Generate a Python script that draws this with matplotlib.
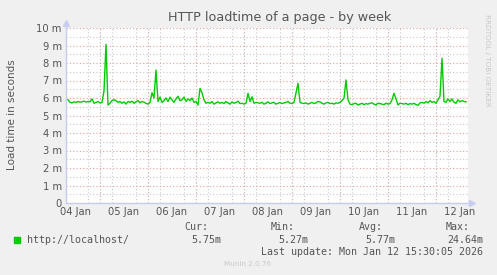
import numpy as np
import matplotlib.pyplot as plt
import matplotlib.dates as mdates

# hourly load times (ms), starting Jan 4 08:00
start = np.datetime64('2026-01-04T08:00')
load_ms = [
    5.9, 5.75, 5.72, 5.78, 5.75, 5.8, 5.76, 5.78, 5.82, 5.77, 5.8, 5.78, 5.95, 5.7, 5.75, 5.8, 5.72, 5.75,
    6.4, 9.07, 5.6, 5.7, 5.85,
    5.9, 5.85, 5.75, 5.8, 5.7, 5.78, 5.65, 5.8, 5.75, 5.82, 5.7, 5.78, 5.85, 5.72, 5.8, 5.76, 5.7, 5.65,
    5.75, 6.3, 6.0, 7.6, 5.8, 6.05, 5.75,
    5.85, 6.0, 5.8, 6.05, 5.9, 5.75, 5.95, 6.1, 5.85, 5.9, 6.05, 5.8, 5.95, 5.85, 6.0, 5.75, 5.8, 5.6,
    6.55, 6.3, 5.9, 5.7,
    5.75, 5.7, 5.8, 5.65, 5.72, 5.78, 5.7, 5.75, 5.68, 5.8, 5.72, 5.65, 5.78, 5.7, 5.74, 5.82, 5.68, 5.7, 5.65, 5.7,
    6.27, 5.8, 6.07, 5.7, 5.75,
    5.72, 5.7, 5.75, 5.65, 5.7, 5.78, 5.68, 5.72, 5.75, 5.65, 5.7, 5.74, 5.68, 5.72, 5.75, 5.8, 5.7, 5.68,
    5.75, 6.3, 6.84, 5.75,
    5.7, 5.68, 5.72, 5.65, 5.7, 5.75, 5.68, 5.72, 5.8, 5.78, 5.7, 5.65, 5.72, 5.75, 5.68, 5.7, 5.65, 5.72, 5.7, 5.75, 5.85,
    6.0, 7.03, 5.9, 5.65,
    5.62, 5.68, 5.7, 5.6, 5.65, 5.7, 5.62, 5.68, 5.65, 5.7, 5.72, 5.65, 5.6, 5.7, 5.68, 5.65, 5.62, 5.7, 5.65, 5.68, 5.9,
    6.27, 5.95, 5.6, 5.7,
    5.68, 5.65, 5.7, 5.62, 5.68, 5.65, 5.7, 5.62, 5.58, 5.72, 5.75, 5.7, 5.8, 5.72, 5.85, 5.75, 5.8, 5.7, 5.9,
    6.1, 8.27, 5.8, 5.75,
    5.95, 5.8, 5.95, 5.75, 5.7, 5.9, 5.78, 5.85, 5.8, 5.78,
]
times = start + np.arange(len(load_ms)) * np.timedelta64(1, 'h')

y_ticks = list(range(0, 11))
y_labels = ['0'] + [f'{v} m' for v in y_ticks[1:]]

legend_name = 'http://localhost/'
stat_names = ['Cur:', 'Min:', 'Avg:', 'Max:']
stat_values = ['5.75m', '5.27m', '5.77m', '24.64m']

bg = '#F0F0F0'
txt = '#555555'
green = '#00CC00'

fig = plt.figure(figsize=(4.97, 2.75), dpi=100, facecolor=bg)
ax = fig.add_axes([66 / 497, 72 / 275, 402 / 497, 175 / 275])
ax.set_facecolor('white')

ax.plot(times.astype('datetime64[s]').astype(object), load_ms, color=green, lw=1.0, zorder=3)

ax.set_xlim(np.datetime64('2026-01-04T07:00').astype(object), np.datetime64('2026-01-12T16:00').astype(object))
ax.set_ylim(0, 10)

# grid: red at days / whole ms, grey at 6 h / half ms
ax.xaxis.set_major_locator(mdates.HourLocator(byhour=[12]))
ax.xaxis.set_major_formatter(mdates.DateFormatter('%d %b'))
ax.xaxis.set_minor_locator(mdates.HourLocator(byhour=[0, 6, 18]))
ax.set_yticks(y_ticks)
ax.set_yticklabels(y_labels)
ax.set_yticks(np.arange(0.5, 10, 1.0), minor=True)

ax.grid(True, which='minor', color='#C8C8C8', ls=(0, (1, 2)), lw=0.8)
ax.yaxis.grid(True, which='major', color='#E4A0A0', ls=(0, (1, 2)), lw=0.8)
for d in range(5, 13):
    ax.axvline(np.datetime64(f'2026-01-{d:02d}T00:00').astype(object), color='#E4A0A0', ls=(0, (1, 2)), lw=0.8, zorder=1)

ax.tick_params(which='both', length=0, colors=txt, labelsize=7.2, pad=3)
for s in ['top', 'right']:
    ax.spines[s].set_visible(False)
for s in ['left', 'bottom']:
    ax.spines[s].set_color('#C8CCF0')
    ax.spines[s].set_linewidth(1.0)
ax.spines['left'].set_bounds(0, 10.3)
ax.spines['bottom'].set_bounds(ax.get_xlim()[0], ax.get_xlim()[1] + 0.04)
ax.plot([0], [1.03], marker='^', color='#C8CCF0', ms=4, transform=ax.transAxes, clip_on=False)
ax.plot([1.01], [0], marker='>', color='#C8CCF0', ms=4, transform=ax.transAxes, clip_on=False)

fig.text(280 / 497, 1 - 18 / 275, 'HTTP loadtime of a page - by week', ha='center', va='center',
         fontsize=9.2, color=txt)
fig.text(12 / 497, 1 - 115 / 275, 'Load time in seconds', rotation=90, ha='center', va='center',
         fontsize=7.5, color=txt)
fig.text(487 / 497, 1 - 60 / 275, 'RRDTOOL / TOBI OETIKER', rotation=-90, ha='center', va='center',
         fontsize=5.2, color='#C8C8C8')

mono = 'DejaVu Sans Mono'
fig.patches.append(plt.Rectangle((14 / 497, 1 - 243 / 275), 6 / 497, 6 / 275, transform=fig.transFigure,
                                 color=green, figure=fig))
fig.text(27 / 497, 1 - 240 / 275, legend_name, family=mono, fontsize=7.2, color=txt, va='center')
right_edges = [221, 308, 395, 483]
head_edges = [208, 295, 383, 470]
for name, val, rx, hx in zip(stat_names, stat_values, right_edges, head_edges):
    fig.text(hx / 497, 1 - 227 / 275, name, family=mono, fontsize=7.2, color=txt, ha='right', va='center')
    fig.text(rx / 497, 1 - 240 / 275, val, family=mono, fontsize=7.2, color=txt, ha='right', va='center')
fig.text(483 / 497, 1 - 252 / 275, 'Last update: Mon Jan 12 15:30:05 2026', family=mono, fontsize=7.2,
         color=txt, ha='right', va='center')
fig.text(248 / 497, 1 - 264 / 275, 'Munin 2.0.76', fontsize=5.2, color='#C8C8C8', ha='center', va='center')

fig.savefig('out.png', dpi=100, facecolor=bg)
